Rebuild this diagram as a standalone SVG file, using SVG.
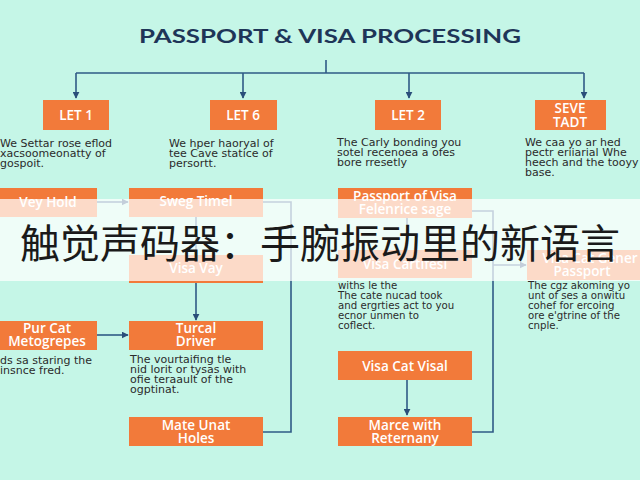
<svg xmlns="http://www.w3.org/2000/svg" width="640" height="480" viewBox="0 0 640 480">
<defs>
<marker id="ah" viewBox="0 0 10 10" refX="9" refY="5" markerWidth="7" markerHeight="7" orient="auto" markerUnits="userSpaceOnUse">
<path d="M0,0 L10,5 L0,10 z" fill="#2a4f7a"/>
</marker>
<style>
.bx{fill:#f27a3a}
.lb{font-family:"Open Sans","Liberation Sans",sans-serif;font-size:13.5px;font-weight:600;fill:#ffffff;text-anchor:middle}
.ds{font-family:"DejaVu Sans","Liberation Sans",sans-serif;font-size:11px;fill:#2b2b2b}
.sm{font-size:10.2px}
.cn{fill:none;stroke:#2f5b86;stroke-width:1.6}
</style>
</defs>
<rect width="640" height="480" fill="#c5f6e7"/>
<text x="330" y="43" text-anchor="middle" font-family="Lato,'Open Sans',sans-serif" font-weight="bold" font-size="19.5" fill="#1e3558" textLength="382" lengthAdjust="spacingAndGlyphs">PASSPORT &amp; VISA PROCESSING</text>
<g id="connectors">
<path class="cn" d="M326,60 V73 M76,73 H584"/>
<path class="cn" d="M76,73 V98" marker-end="url(#ah)"/>
<path class="cn" d="M243,73 V98" marker-end="url(#ah)"/>
<path class="cn" d="M409,73 V98" marker-end="url(#ah)"/>
<path class="cn" d="M584,73 V98" marker-end="url(#ah)"/>
<path class="cn" d="M97,202 H128" marker-end="url(#ah)"/>
<path class="cn" d="M263,202 H291 V432 H263"/>
<path class="cn" d="M196,217 V320" marker-end="url(#ah)"/>
<path class="cn" d="M97,335 H128" marker-end="url(#ah)"/>
<path class="cn" d="M407,211 H493 V432 H472"/>
<path class="cn" d="M407,218 V250"/>
<path class="cn" d="M493,265 H526" marker-end="url(#ah)"/>
<path class="cn" d="M407,380 V415" marker-end="url(#ah)"/>
</g>
<g id="let1"><rect class="bx" x="43" y="100" width="66" height="30"/><text class="lb" x="76" y="120" font-size="14">LET 1</text></g>
<g id="let6"><rect class="bx" x="210" y="100" width="67" height="30"/><text class="lb" x="243" y="120" font-size="14">LET 6</text></g>
<g id="let2"><rect class="bx" x="375" y="100" width="66" height="30"/><text class="lb" x="408" y="120" font-size="14">LET 2</text></g>
<g id="seve"><rect class="bx" x="535" y="100" width="71" height="30"/><text class="lb" x="570" y="113" font-size="13">SEVE</text><text class="lb" x="570" y="127" font-size="13">TADT</text></g>
<g id="d1" class="ds"><text x="0" y="147">We Settar rose eflod</text><text x="0" y="157">xacsoomeonatty of</text><text x="0" y="167">gospoit.</text></g>
<g id="d6" class="ds"><text x="169" y="147">We hper haoryal of</text><text x="169" y="157">tee Cave statice of</text><text x="169" y="167">persortt.</text></g>
<g id="d2" class="ds"><text x="337" y="146">The Carly bonding you</text><text x="337" y="156">sotel recenoea a ofes</text><text x="337" y="166">bore rresetly</text></g>
<g id="d7" class="ds"><text x="525" y="146">We caa yo ar hed</text><text x="525" y="156">pectr eriiarial Whe</text><text x="525" y="166">heech and the tooyy</text><text x="525" y="176">base.</text></g>
<g id="veyhold"><rect class="bx" x="0" y="188" width="97" height="29"/><text class="lb" x="48" y="207">Vey Hold</text></g>
<g id="sweg"><rect class="bx" x="129" y="188" width="134" height="29"/><text class="lb" x="196" y="206">Sweg Timel</text></g>
<g id="visavay"><rect class="bx" x="129" y="255" width="134" height="28"/><text class="lb" x="196" y="273">Visa Vay</text></g>
<g id="purcat"><rect class="bx" x="0" y="321" width="97" height="29"/><text class="lb" x="47" y="333" font-size="12.5">Pur Cat</text><text class="lb" x="47" y="346" font-size="12.5">Metogrepes</text></g>
<g id="turcal"><rect class="bx" x="129" y="321" width="134" height="29"/><text class="lb" x="196" y="333" font-size="12.5">Turcal</text><text class="lb" x="196" y="346" font-size="12.5">Driver</text></g>
<g id="dp" class="ds"><text x="0" y="364">ds sa staring the</text><text x="0" y="374">insnce fred.</text></g>
<g id="dt" class="ds"><text x="130" y="363">The vourtaifing tle</text><text x="130" y="373">nid lorit or tysas with</text><text x="130" y="383">ofie teraault of the</text><text x="130" y="393">ogptinat.</text></g>
<g id="mate"><rect class="bx" x="129" y="417" width="134" height="29"/><text class="lb" x="196" y="430" font-size="12.5">Mate Unat</text><text class="lb" x="196" y="443" font-size="12.5">Holes</text></g>
<g id="passport"><rect class="bx" x="338" y="188" width="134" height="30"/><text class="lb" x="405" y="201" font-size="12.5">Passport of Visa</text><text class="lb" x="405" y="214" font-size="12.5">Felenrice sage</text></g>
<g id="visacart"><rect class="bx" x="338" y="250" width="134" height="28"/><text class="lb" x="405" y="269">Visa Cartifesl</text></g>
<g id="dvc" class="ds sm"><text x="338" y="289">withs le the</text><text x="338" y="299">The cate nucad took</text><text x="338" y="309">and ergrties act to you</text><text x="338" y="319">ecnor unmen to</text><text x="338" y="329">coflect.</text></g>
<g id="visagener"><rect class="bx" x="527" y="250" width="113" height="30"/><text class="lb" x="590" y="263" font-size="12.5">Visa Cat Gener</text><text class="lb" x="582" y="276" font-size="12.5">Passport</text></g>
<g id="dvg" class="ds sm"><text x="528" y="289">The cgz akoming yo</text><text x="528" y="299">unt of ses a onwitu</text><text x="528" y="309">cohef for ercoing</text><text x="528" y="319">ore e'gtrine of the</text><text x="528" y="329">cnple.</text></g>
<g id="visacatvisal"><rect class="bx" x="338" y="351" width="134" height="29"/><text class="lb" x="405" y="371" font-size="15">Visa Cat Visal</text></g>
<g id="marce"><rect class="bx" x="338" y="417" width="134" height="29"/><text class="lb" x="405" y="430" font-size="12.5">Marce with</text><text class="lb" x="405" y="443" font-size="12.5">Reternany</text></g>
<rect x="0" y="199" width="640" height="82" fill="#ffffff" fill-opacity="0.72"/>
<text x="320" y="258" text-anchor="middle" font-family="'Noto Sans CJK SC','Noto Sans',sans-serif" font-size="40" fill="#1a1a1a" textLength="600" lengthAdjust="spacingAndGlyphs">触觉声码器：手腕振动里的新语言</text>
</svg>
